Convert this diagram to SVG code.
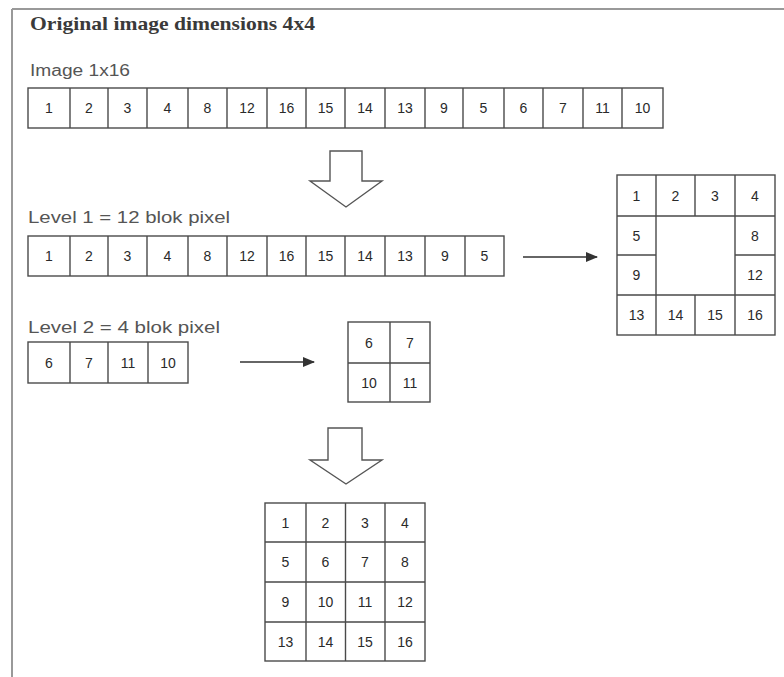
<svg xmlns="http://www.w3.org/2000/svg" width="784" height="677" viewBox="0 0 784 677">
<defs>
<style>
.cell{fill:#fff;stroke:#4a4a4a;stroke-width:1.4}
.ln{stroke:#4a4a4a;stroke-width:1.4;fill:none}
.num{font-family:"Liberation Sans",Arial,sans-serif;font-size:14px;fill:#2a2a2a;text-anchor:middle}
.lbl{font-family:"Liberation Sans",Arial,sans-serif;font-size:16px;fill:#555}
.title{font-family:"Liberation Serif","Times New Roman",serif;font-size:19px;font-weight:bold;fill:#3a3a3a}
.big{fill:#fff;stroke:#555;stroke-width:1.4;stroke-linejoin:miter}
.arr{stroke:#333;stroke-width:1.6;fill:none}
</style>
<marker id="ah" markerWidth="12" markerHeight="10" refX="11" refY="5" orient="auto" markerUnits="userSpaceOnUse">
<path d="M0,0 L12,5 L0,10 Z" fill="#333"/>
</marker>
</defs>
<rect x="0" y="0" width="784" height="677" fill="#fff"/>
<g id="frame">
<line x1="12" y1="9" x2="784" y2="9" stroke="#999" stroke-width="2"/>
<line x1="12" y1="9" x2="12" y2="677" stroke="#999" stroke-width="2"/>
</g>
<g id="title">
<text class="title" x="30" y="30" textLength="285" lengthAdjust="spacingAndGlyphs">Original image dimensions 4x4</text>
</g>
<g id="row16">
<text class="lbl" x="30" y="76" font-size="15" textLength="100" lengthAdjust="spacingAndGlyphs">Image 1x16</text>
<rect class="cell" x="28" y="88" width="635" height="40"/>
<path class="ln" d="M70,88V128M108,88V128M147,88V128M188,88V128M227,88V128M267,88V128M306,88V128M345,88V128M385,88V128M425,88V128M463,88V128M504,88V128M543,88V128M583,88V128M622,88V128"/>
<g class="num">
<text x="49" y="113">1</text><text x="89" y="113">2</text><text x="127.5" y="113">3</text><text x="167.5" y="113">4</text><text x="207.5" y="113">8</text><text x="247" y="113">12</text><text x="286.5" y="113">16</text><text x="325.5" y="113">15</text><text x="365" y="113">14</text><text x="405" y="113">13</text><text x="444" y="113">9</text><text x="483.5" y="113">5</text><text x="523.5" y="113">6</text><text x="563" y="113">7</text><text x="602.5" y="113">11</text><text x="642.5" y="113">10</text>
</g>
</g>
<g id="level1">
<text class="lbl" x="28" y="223" textLength="202" lengthAdjust="spacingAndGlyphs">Level 1 = 12 blok pixel</text>
<rect class="cell" x="28" y="236" width="476" height="40"/>
<path class="ln" d="M70,236V276M108,236V276M147,236V276M188,236V276M227,236V276M267,236V276M306,236V276M345,236V276M385,236V276M425,236V276M465,236V276"/>
<g class="num">
<text x="49" y="261">1</text><text x="89" y="261">2</text><text x="127.5" y="261">3</text><text x="167.5" y="261">4</text><text x="207.5" y="261">8</text><text x="247" y="261">12</text><text x="286.5" y="261">16</text><text x="325.5" y="261">15</text><text x="365" y="261">14</text><text x="405" y="261">13</text><text x="445" y="261">9</text><text x="484.5" y="261">5</text>
</g>
</g>
<g id="ring12">
<rect class="cell" x="617" y="175" width="158" height="160"/>
<path class="ln" d="M656,175V335M735,175V335M617,216H775M617,295H775M695,175V216M695,295V335M617,255H656M735,255H775"/>
<g class="num">
<text x="636.5" y="200.5">1</text><text x="675.5" y="200.5">2</text><text x="715" y="200.5">3</text><text x="755" y="200.5">4</text>
<text x="636.5" y="240.5">5</text><text x="755" y="240.5">8</text>
<text x="636.5" y="280">9</text><text x="755" y="280">12</text>
<text x="636.5" y="320">13</text><text x="675.5" y="320">14</text><text x="715" y="320">15</text><text x="755" y="320">16</text>
</g>
</g>
<g id="level2">
<text class="lbl" x="28" y="333" textLength="192" lengthAdjust="spacingAndGlyphs">Level 2 = 4 blok pixel</text>
<rect class="cell" x="28" y="342" width="160" height="41"/>
<path class="ln" d="M70,342V383M108,342V383M148,342V383"/>
<g class="num">
<text x="49" y="367.5">6</text><text x="89" y="367.5">7</text><text x="128" y="367.5">11</text><text x="168" y="367.5">10</text>
</g>
</g>
<g id="grid4">
<rect class="cell" x="348" y="322" width="82" height="80"/>
<path class="ln" d="M390,322V402M348,363H430"/>
<g class="num">
<text x="369" y="347.5">6</text><text x="410" y="347.5">7</text><text x="369" y="387.5">10</text><text x="410" y="387.5">11</text>
</g>
</g>
<g id="grid16">
<rect class="cell" x="265" y="503" width="160" height="158"/>
<path class="ln" d="M306,503V661M345.5,503V661M385,503V661M265,542H425M265,582H425M265,622H425"/>
<g class="num">
<text x="285.5" y="527.5">1</text><text x="325.5" y="527.5">2</text><text x="365" y="527.5">3</text><text x="405" y="527.5">4</text>
<text x="285.5" y="567">5</text><text x="325.5" y="567">6</text><text x="365" y="567">7</text><text x="405" y="567">8</text>
<text x="285.5" y="607">9</text><text x="325.5" y="607">10</text><text x="365" y="607">11</text><text x="405" y="607">12</text>
<text x="285.5" y="646.5">13</text><text x="325.5" y="646.5">14</text><text x="365" y="646.5">15</text><text x="405" y="646.5">16</text>
</g>
</g>
<g id="connectors">
<polygon class="big" points="330,151 362,151 362,181 382,181 346,207 310,181 330,181"/>
<polygon class="big" points="328,428 362,428 362,460 382,460 346,484 310,460 328,460"/>
<line class="arr" x1="523" y1="257" x2="597" y2="257" marker-end="url(#ah)"/>
<line class="arr" x1="240" y1="362" x2="314" y2="362" marker-end="url(#ah)"/>
</g>
</svg>
